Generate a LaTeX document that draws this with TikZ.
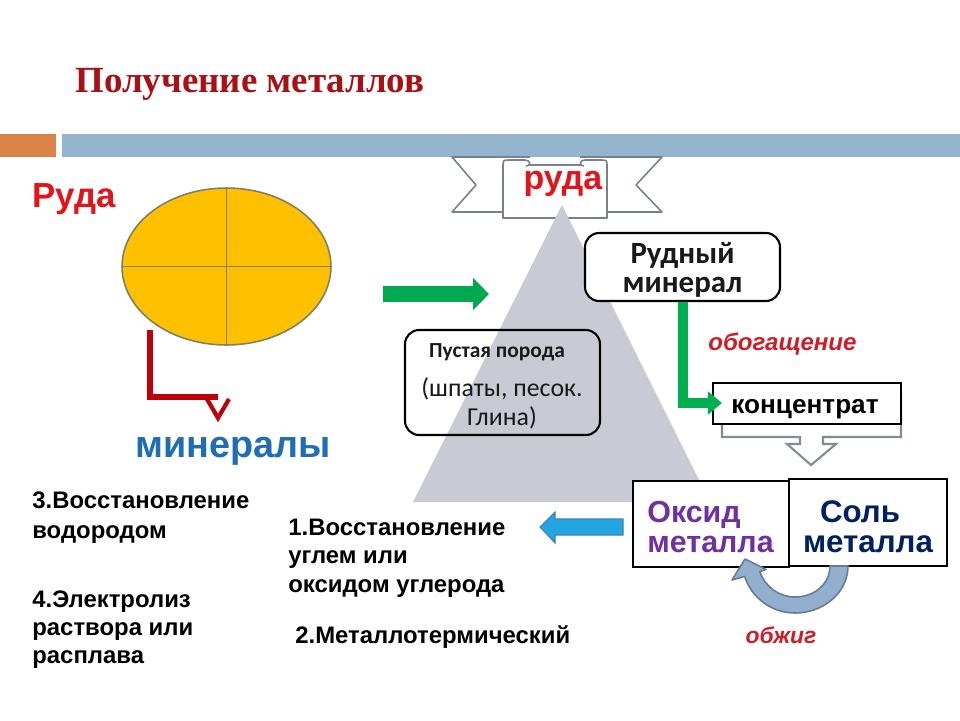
\documentclass[tikz,border=0pt]{standalone}
\usepackage{fontspec}
\setmainfont{Liberation Sans}
\newfontfamily\serifbf{Liberation Serif}
\newfontfamily\carl{Carlito}
\usetikzlibrary{shapes.geometric,arrows.meta}
\definecolor{titlered}{RGB}{168,16,22}
\definecolor{barorange}{RGB}{218,131,72}
\definecolor{barblue}{RGB}{148,179,207}
\definecolor{rudared}{RGB}{225,20,25}
\definecolor{ellfill}{RGB}{255,192,0}
\definecolor{ellstroke}{RGB}{128,128,100}
\definecolor{arrred}{RGB}{190,0,12}
\definecolor{minblue}{RGB}{31,110,178}
\definecolor{greenA}{RGB}{0,168,80}
\definecolor{greenB}{RGB}{0,176,80}
\definecolor{trigray}{RGB}{201,202,212}
\definecolor{ribgray}{RGB}{120,130,140}
\definecolor{obored}{RGB}{205,30,40}
\definecolor{oxpurple}{RGB}{112,48,160}
\definecolor{saltnavy}{RGB}{0,32,96}
\definecolor{curvfill}{RGB}{146,176,206}
\definecolor{curvdraw}{RGB}{100,125,150}
\definecolor{blarr}{RGB}{35,165,225}
\definecolor{blarrdraw}{RGB}{60,130,180}
\definecolor{downgray}{RGB}{130,140,150}
\definecolor{darktext}{RGB}{25,25,25}
\tikzset{
  txt/.style={inner sep=0pt, anchor=base west},
  txtc/.style={inner sep=0pt, anchor=base},
  lst/.style={txt, font=\bfseries\fontsize{13.6}{16}\selectfont},
  boxr/.style={draw=black, line width=1.2pt, rounded corners=8pt, inner sep=0pt},
  boxs/.style={draw=black, line width=0.85pt, fill=white, inner sep=0pt},
  ribbon/.style={draw=ribgray, line width=0.9pt, fill=white, line join=round},
}
\begin{document}
\begin{tikzpicture}[x=0.02cm,y=-0.02cm]
\useasboundingbox (0,0) rectangle (960,720);
\fill[white] (0,0) rectangle (960,720);

% title and bars
\node[txtc, text=titlered, font=\serifbf\bfseries\fontsize{21}{25}\selectfont] (title) at (250,92) {Получение металлов};
\fill[barorange] (0,134) rectangle (56,157);
\fill[barblue] (62,134) rectangle (960,157);

% left: ore
\node[txt, text=rudared, font=\bfseries\fontsize{19.8}{24}\selectfont] (ruda1) at (32,207) {Руда};
\node[ellipse, draw=ellstroke, fill=ellfill, line width=0.9pt, minimum width=4.18cm, minimum height=3.14cm, inner sep=0pt, outer sep=0pt] (ore) at (226.5,266.5) {};
\draw[ellstroke, line width=0.9pt] (ore.north) -- (ore.south) (ore.west) -- (ore.east);

\node[txtc, text=minblue, font=\bfseries\fontsize{21.5}{26}\selectfont] (min) at (233,457) {минералы};
\coordinate (rs) at (150,330);
\coordinate (rv) at (218,397);
\coordinate (rtip) at (218,418);
\draw[arrred, line width=3.4pt, line join=miter] (rs) |- (rv);
\draw[arrred, line width=2.4pt, line join=miter] (207,399) -- (rtip) -- (229,399);

% green block arrow
\coordinate (ga1) at (383,294);
\coordinate (ga2) at (489,294);
\draw[greenA, line width=9pt, -{Triangle[length=9pt,width=17.6pt]}] (ga1) -- (ga2);

% ribbon
\draw[ribbon] (530,157) -- (452,157) -- (476,185) -- (452,212) -- (512,212);
\draw[ribbon] (580,157) -- (662,157) -- (636,185) -- (662,212) -- (598,212);
\draw[ribbon] (503,165) rectangle (607,218);
\draw[ribbon] (503,167) .. controls (503,160) .. (509,160) -- (525,160) .. controls (531,160) and (531,166) .. (526,166);
\draw[ribbon] (607,167) .. controls (607,160) .. (601,160) -- (585,160) .. controls (579,160) and (579,166) .. (584,166);

% triangle
\fill[trigray] (562,205) -- (710,502) -- (413,502) -- cycle;
\node[txtc, text=rudared, font=\bfseries\fontsize{19.3}{24}\selectfont] (ruda2) at (563,189) {руда};

% gangue box
\node[boxr, minimum width=3.9cm, minimum height=2.1cm] (pp) at (502.5,382.5) {};
\node[txtc, text=darktext, font=\carl\bfseries\fontsize{12.2}{14}\selectfont] (pp1) at (497,357) {Пустая порода};
\node[txtc, text=darktext, font=\carl\fontsize{14.7}{17}\selectfont] (pp2) at (502,396) {(шпаты, песок.};
\node[txtc, text=darktext, font=\carl\fontsize{14.7}{17}\selectfont] (pp3) at (502,425) {Глина)};

% ore mineral box
\node[boxr, fill=white, minimum width=3.9cm, minimum height=1.36cm] (rm) at (682.5,267) {};
\node[txtc, text=darktext, font=\carl\bfseries\fontsize{17.6}{20}\selectfont] (rm1) at (682.5,263) {Рудный};
\node[txtc, text=darktext, font=\carl\bfseries\fontsize{17.6}{20}\selectfont] (rm2) at (682.5,292) {минерал};

% enrichment
\node[txt, text=obored, font=\bfseries\itshape\fontsize{13.7}{17}\selectfont] (obo) at (708,350) {обогащение};

% down outline arrow
\draw[downgray, line width=1.2pt, fill=white, line join=miter] (722,395) -- (722,437) -- (800,437) -- (800,444) -- (787,444) -- (811,465) -- (836,444) -- (823,444) -- (823,437) -- (901,437) -- (901,395) -- cycle;

% concentrate
\node[boxs, minimum width=3.76cm, minimum height=0.82cm] (cc) at (807,403.5) {};
\node[txtc, font=\bfseries\fontsize{14.9}{17}\selectfont] (cct) at (805,413) {концентрат};
\coordinate (gtip) at (722,403);
\draw[greenB, line width=5.7pt, -{Triangle[length=8pt,width=12.8pt]}] (rm.south) |- (gtip);

% oxide and salt boxes
\node[boxs, minimum width=3.16cm, minimum height=1.74cm] (salt) at (868,522.5) {};
\node[boxs, minimum width=3.12cm, minimum height=1.72cm] (ox) at (711,524) {};
\node[txt, text=oxpurple, font=\bfseries\fontsize{17.3}{22}\selectfont] (ox1) at (647,522) {Оксид};
\node[txt, text=oxpurple, font=\bfseries\fontsize{17.3}{22}\selectfont] (ox2) at (647,552) {металла};
\node[txtc, text=saltnavy, font=\bfseries\fontsize{17.8}{22}\selectfont] (s1) at (860,522) {Соль};
\node[txtc, text=saltnavy, font=\bfseries\fontsize{17.8}{22}\selectfont] (s2) at (868,552) {металла};
\node[txtc, text=obored, font=\bfseries\itshape\fontsize{13}{16}\selectfont] (obzh) at (781,643) {обжиг};

% curved arrow (roasting), from salt to oxide
\draw[fill=curvfill, draw=curvdraw, line width=0.9pt, line join=round]
  (848,566) .. controls (848,592) and (824.3,613) .. (795,613)
  .. controls (772,613) and (751.7,598.2) .. (744.6,576.4)
  -- (732,580) -- (745,559) -- (766,569.4) -- (759.8,571.4)
  .. controls (764.7,586.6) and (779,597) .. (795,597)
  .. controls (815.4,597) and (830,583) .. (830,566) -- cycle;

% blue left arrow
\coordinate (ba1) at (623,527);
\coordinate (ba2) at (540,527);
\draw[fill=blarr, draw=blarrdraw, line width=0.6pt, line join=miter] (623,519) -- (555,519) -- (555,512) -- (ba2) -- (555,543) -- (555,535) -- (623,535) -- cycle;

% methods
\node[lst] (m3a) at (32,508) {3.Восстановление};
\node[lst] (m3b) at (32,538) {водородом};
\node[lst] (m4a) at (32,607) {4.Электролиз};
\node[lst] (m4b) at (32,635) {раствора или};
\node[lst] (m4c) at (32,663) {расплава};
\node[lst] (m1a) at (288,535) {1.Восстановление};
\node[lst] (m1b) at (288,563.5) {углем или};
\node[lst] (m1c) at (288,592) {оксидом углерода};
\node[lst] (m2) at (295,643) {2.Металлотермический};
\end{tikzpicture}
\end{document}
